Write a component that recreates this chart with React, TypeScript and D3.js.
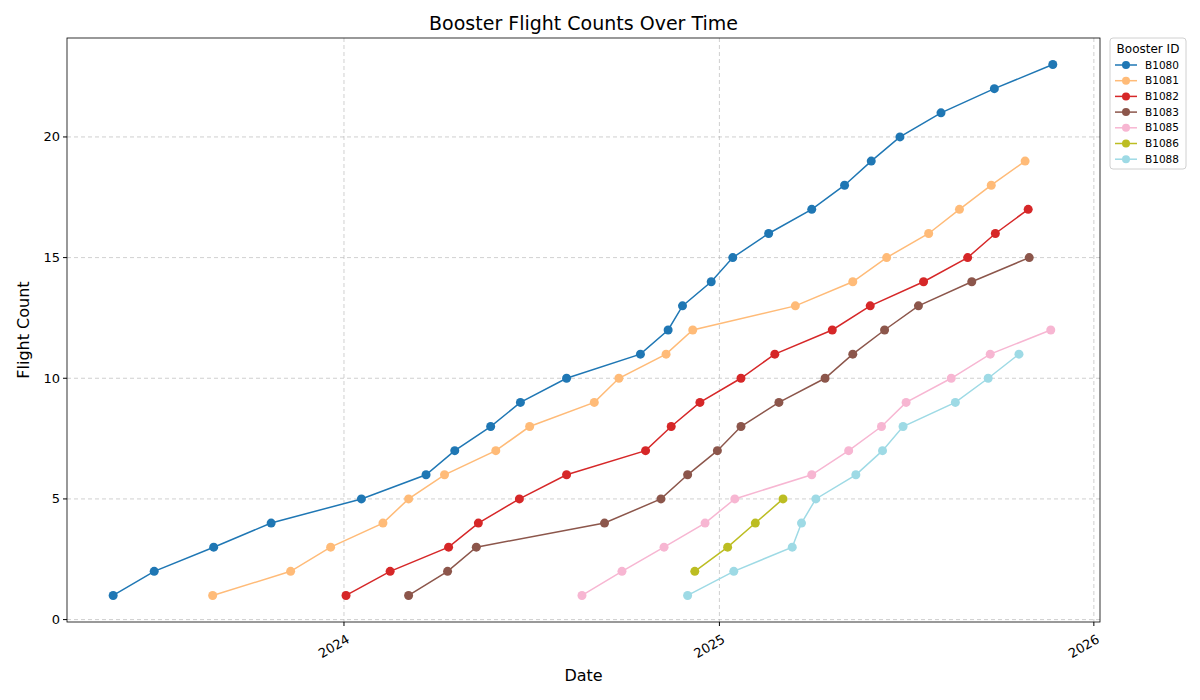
import React, { useEffect, useRef } from "react";
import * as d3 from "d3";

const boosterIds = ["B1080", "B1081", "B1082", "B1083", "B1085", "B1086", "B1088"];
const colors = ["#1f77b4", "#ffbb78", "#d62728", "#8c564b", "#f7b6d2", "#bcbd22", "#9edae5"];

const b1080Dates = ["2023-05-21", "2023-06-30", "2023-08-27", "2023-10-22", "2024-01-18", "2024-03-21", "2024-04-18", "2024-05-23", "2024-06-21", "2024-08-05", "2024-10-16", "2024-11-12", "2024-11-26", "2024-12-24", "2025-01-14", "2025-02-18", "2025-04-01", "2025-05-03", "2025-05-29", "2025-06-26", "2025-08-05", "2025-09-26", "2025-11-22"];
const b1080Counts = [1, 2, 3, 4, 5, 6, 7, 8, 9, 10, 11, 12, 13, 14, 15, 16, 17, 18, 19, 20, 21, 22, 23];
const b1081Dates = ["2023-08-26", "2023-11-10", "2023-12-19", "2024-02-08", "2024-03-04", "2024-04-08", "2024-05-28", "2024-06-30", "2024-09-01", "2024-09-25", "2024-11-10", "2024-12-06", "2025-03-16", "2025-05-11", "2025-06-13", "2025-07-24", "2025-08-23", "2025-09-23", "2025-10-26"];
const b1081Counts = [1, 2, 3, 4, 5, 6, 7, 8, 9, 10, 11, 12, 13, 14, 15, 16, 17, 18, 19];
const b1082Dates = ["2024-01-03", "2024-02-15", "2024-04-12", "2024-05-11", "2024-06-20", "2024-08-05", "2024-10-21", "2024-11-15", "2024-12-13", "2025-01-22", "2025-02-24", "2025-04-21", "2025-05-28", "2025-07-19", "2025-08-31", "2025-09-27", "2025-10-29"];
const b1082Counts = [1, 2, 3, 4, 5, 6, 7, 8, 9, 10, 11, 12, 13, 14, 15, 16, 17];
const b1083Dates = ["2024-03-04", "2024-04-11", "2024-05-09", "2024-09-11", "2024-11-05", "2024-12-01", "2024-12-30", "2025-01-22", "2025-02-28", "2025-04-14", "2025-05-11", "2025-06-11", "2025-07-14", "2025-09-04", "2025-10-30"];
const b1083Counts = [1, 2, 3, 4, 5, 6, 7, 8, 9, 10, 11, 12, 13, 14, 15];
const b1085Dates = ["2024-08-20", "2024-09-28", "2024-11-08", "2024-12-18", "2025-01-16", "2025-04-01", "2025-05-07", "2025-06-08", "2025-07-02", "2025-08-15", "2025-09-22", "2025-11-20"];
const b1085Counts = [1, 2, 3, 4, 5, 6, 7, 8, 9, 10, 11, 12];
const b1086Dates = ["2024-12-08", "2025-01-09", "2025-02-05", "2025-03-04"];
const b1086Counts = [2, 3, 4, 5];
const b1088Dates = ["2024-12-01", "2025-01-15", "2025-03-13", "2025-03-22", "2025-04-05", "2025-05-14", "2025-06-09", "2025-06-29", "2025-08-19", "2025-09-20", "2025-10-20"];
const b1088Counts = [1, 2, 3, 4, 5, 6, 7, 8, 9, 10, 11];

const seriesDates = [b1080Dates, b1081Dates, b1082Dates, b1083Dates, b1085Dates, b1086Dates, b1088Dates];
const seriesCounts = [b1080Counts, b1081Counts, b1082Counts, b1083Counts, b1085Counts, b1086Counts, b1088Counts];
const xTicks = ["2024-01-01", "2025-01-01", "2026-01-01"];
const yTicks = [0, 5, 10, 15, 20];

const App: React.FC = () => {
  const ref = useRef<SVGSVGElement>(null);

  useEffect(() => {
    const svg = d3.select(ref.current);
    svg.selectAll("*").remove();
    const m = { left: 67, right: 1100, top: 38, bottom: 622 };
    const parse = d3.utcParse("%Y-%m-%d");
    const x = d3.scaleUtc()
      .domain([parse("2023-04-06")!, parse("2026-01-07")!])
      .range([m.left, m.right]);
    const y = d3.scaleLinear().domain([-0.1, 24.1]).range([m.bottom, m.top]);

    const g = svg.append("g").style("font-family", "DejaVu Sans, sans-serif");

    // grid
    xTicks.forEach(t => {
      g.append("line").attr("x1", x(parse(t)!)).attr("x2", x(parse(t)!))
        .attr("y1", m.top).attr("y2", m.bottom)
        .attr("stroke", "#b0b0b0").attr("stroke-opacity", 0.6).attr("stroke-dasharray", "4,3");
    });
    yTicks.forEach(t => {
      g.append("line").attr("x1", m.left).attr("x2", m.right)
        .attr("y1", y(t)).attr("y2", y(t))
        .attr("stroke", "#b0b0b0").attr("stroke-opacity", 0.6).attr("stroke-dasharray", "4,3");
    });

    // series
    const line = d3.line<[Date, number]>().x(d => x(d[0])).y(d => y(d[1]));
    seriesDates.forEach((dates, i) => {
      const pts: [Date, number][] = dates.map((d, j) => [parse(d)!, seriesCounts[i][j]]);
      g.append("path").attr("d", line(pts) || "").attr("fill", "none")
        .attr("stroke", colors[i]).attr("stroke-width", 1.5);
      g.selectAll(null).data(pts).enter().append("circle")
        .attr("cx", d => x(d[0])).attr("cy", d => y(d[1])).attr("r", 4.5)
        .attr("fill", colors[i]);
    });

    // frame
    g.append("rect").attr("x", m.left).attr("y", m.top)
      .attr("width", m.right - m.left).attr("height", m.bottom - m.top)
      .attr("fill", "none").attr("stroke", "black").attr("stroke-width", 0.8);

    // y ticks
    yTicks.forEach(t => {
      g.append("line").attr("x1", m.left - 4).attr("x2", m.left).attr("y1", y(t)).attr("y2", y(t)).attr("stroke", "black");
      g.append("text").attr("x", m.left - 7).attr("y", y(t)).attr("dy", "0.35em")
        .attr("text-anchor", "end").attr("font-size", 13).text(t);
    });
    // x ticks
    xTicks.forEach(t => {
      const px = x(parse(t)!);
      g.append("line").attr("x1", px).attr("x2", px).attr("y1", m.bottom).attr("y2", m.bottom + 4).attr("stroke", "black");
      g.append("text").attr("transform", `translate(${px + 2},${m.bottom + 12}) rotate(-30)`)
        .attr("dy", "0.7em").attr("text-anchor", "end").attr("font-size", 13)
        .text(d3.utcFormat("%Y")(parse(t)!));
    });

    g.append("text").attr("x", (m.left + m.right) / 2).attr("y", 30)
      .attr("text-anchor", "middle").attr("font-size", 19).text("Booster Flight Counts Over Time");
    g.append("text").attr("x", (m.left + m.right) / 2).attr("y", 681)
      .attr("text-anchor", "middle").attr("font-size", 16).text("Date");
    g.append("text").attr("transform", `translate(29,${(m.top + m.bottom) / 2}) rotate(-90)`)
      .attr("text-anchor", "middle").attr("font-size", 16).text("Flight Count");

    // legend
    const lg = g.append("g").attr("transform", "translate(1110,38)");
    lg.append("rect").attr("width", 76).attr("height", 131).attr("rx", 3)
      .attr("fill", "white").attr("stroke", "#d0d0d0");
    lg.append("text").attr("x", 38).attr("y", 15).attr("text-anchor", "middle")
      .attr("font-size", 12).text("Booster ID");
    boosterIds.forEach((id, i) => {
      const yy = 27 + i * 15.7;
      lg.append("line").attr("x1", 5).attr("x2", 27).attr("y1", yy).attr("y2", yy)
        .attr("stroke", colors[i]).attr("stroke-width", 1.5);
      lg.append("circle").attr("cx", 16).attr("cy", yy).attr("r", 4).attr("fill", colors[i]);
      lg.append("text").attr("x", 35).attr("y", yy).attr("dy", "0.35em")
        .attr("font-size", 10.5).text(id);
    });
  }, []);

  return (
    <svg ref={ref} width={1200} height={700}
      style={{ position: "absolute", left: 0, top: 0, background: "white" }} />
  );
};

export default App;
